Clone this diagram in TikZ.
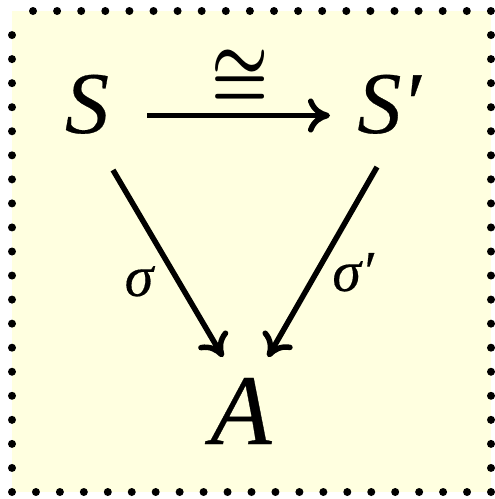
\documentclass[tikz,border=0pt]{standalone}
\usepackage{fontspec}
\setmainfont{Liberation Serif}[ItalicFeatures={FakeBold=0.3}]
\usepackage{graphicx}
\usetikzlibrary{arrows.meta}
\definecolor{bgyellow}{RGB}{255,255,224}
\begin{document}
\begin{tikzpicture}[x=1pt,y=-1pt,
  obj/.style={font=\fontsize{88}{88}\selectfont\itshape, inner sep=0pt, anchor=base},
  lbl/.style={font=\fontsize{58}{58}\selectfont\itshape, inner sep=0pt, anchor=base},
  arr/.style={line width=5.5pt, -{To[length=22pt,width=34pt]}},
  dotc/.style={fill=black}]
\useasboundingbox (0,0) rectangle (495,499);
\fill[bgyellow] (12,11) rectangle (491,492);
\foreach \i in {0,...,19} \fill[dotc] (33+\i*24.1,11) circle (4);
\foreach \i in {1,...,20} \fill[dotc] (491,11+\i*24.05) circle (4);
\foreach \i in {1,...,20} \fill[dotc] (491-\i*23.95,492) circle (4);
\foreach \i in {1,...,19} \fill[dotc] (12,492-\i*24.05) circle (4);
\node[obj] (S) at (87,133) {S};
\node[obj] (Sp) at (389,133) {S′};
\node[obj, font=\fontsize{100}{100}\selectfont\itshape] (A) at (241,444) {A};
\node[inner sep=0pt] (iso) at (240,79) {\scalebox{6.4}[7.8]{\boldmath$\cong$}};
\node[lbl] (sig) at (139,296) {σ};
\node[lbl] (sigp) at (353,291) {σ′};
\draw[arr] ([shift={(60,-17.5)}]S.base) -- ([shift={(-59,-17.5)}]Sp.base);
\draw[arr] ([shift={(26,37)}]S.base) -- ([shift={(-18,-87)}]A.base);
\draw[arr] ([shift={(-12,34)}]Sp.base) -- ([shift={(27,-87)}]A.base);
\end{tikzpicture}
\end{document}
